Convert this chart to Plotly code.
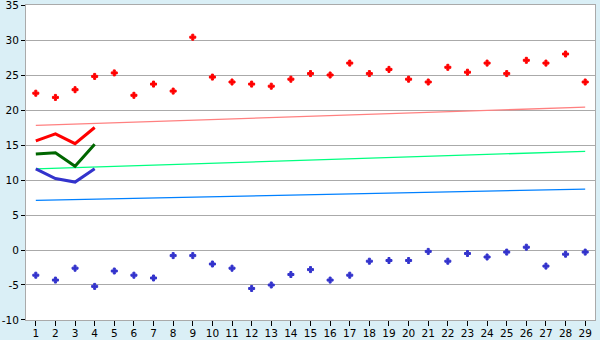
import plotly.graph_objects as go

days = list(range(1, 30))
high_pts = [22.4, 21.8, 22.9, 24.8, 25.3, 22.1, 23.7, 22.7, 30.4, 24.7,
            24.0, 23.7, 23.4, 24.4, 25.2, 25.0, 26.7, 25.2, 25.8, 24.4,
            24.0, 26.1, 25.4, 26.7, 25.2, 27.1, 26.7, 28.0, 24.0]
low_pts = [-3.6, -4.3, -2.6, -5.2, -3.0, -3.6, -4.0, -0.8, -0.8, -2.0,
           -2.6, -5.5, -5.0, -3.5, -2.8, -4.3, -3.6, -1.6, -1.5, -1.5,
           -0.2, -1.6, -0.5, -1.0, -0.3, 0.4, -2.3, -0.6, -0.3]

trend_x = [1, 29]
trend_high = [17.8, 20.4]
trend_mean = [11.6, 14.1]
trend_low = [7.1, 8.7]

cur_days = [1, 2, 3, 4]
cur_high = [15.6, 16.6, 15.2, 17.5]
cur_mean = [13.7, 13.9, 11.95, 15.1]
cur_low = [11.6, 10.2, 9.7, 11.6]

y_ticks = [-10, -5, 0, 5, 10, 15, 20, 25, 30, 35]
y_tick_text = ["-10", "-5", "0", "5", "10", "15", "20", "25", "30", "35"]

fig = go.Figure()
fig.add_trace(go.Scatter(x=trend_x, y=trend_high, mode="lines",
                         line=dict(color="#ff8080", width=1.3)))
fig.add_trace(go.Scatter(x=trend_x, y=trend_mean, mode="lines",
                         line=dict(color="#00ff80", width=1.3)))
fig.add_trace(go.Scatter(x=trend_x, y=trend_low, mode="lines",
                         line=dict(color="#0080ff", width=1.3)))
fig.add_trace(go.Scatter(x=cur_days, y=cur_high, mode="lines",
                         line=dict(color="#ff0000", width=3)))
fig.add_trace(go.Scatter(x=cur_days, y=cur_mean, mode="lines",
                         line=dict(color="#006600", width=3)))
fig.add_trace(go.Scatter(x=cur_days, y=cur_low, mode="lines",
                         line=dict(color="#3333cc", width=3)))
fig.add_trace(go.Scatter(x=days, y=high_pts, mode="markers",
                         marker=dict(symbol="cross", size=5, color="#ff0000",
                                     line=dict(width=1, color="#ff0000"))))
fig.add_trace(go.Scatter(x=days, y=low_pts, mode="markers",
                         marker=dict(symbol="cross", size=5, color="#3333cc",
                                     line=dict(width=1, color="#3333cc"))))
# invisible trace to activate the label-only overlay axis
fig.add_trace(go.Scatter(x=[days[0]], y=[y_ticks[0]], xaxis="x2",
                         mode="markers", marker=dict(opacity=0),
                         hoverinfo="skip"))

fig.update_layout(
    width=600, height=340,
    margin=dict(l=26, r=5, t=5, b=20),
    paper_bgcolor="#daeff6",
    plot_bgcolor="#ffffff",
    showlegend=False,
    font=dict(family="DejaVu Sans", size=10.5, color="#000000"),
    xaxis=dict(
        range=[0.5, 29.5], tickmode="array", tickvals=days,
        ticks="outside", ticklen=5, tickwidth=1, tickcolor="#000000",
        showticklabels=False,
        showgrid=False, zeroline=False, automargin=False,
        showline=True, linecolor="#aaaaaa", linewidth=1, mirror=True,
    ),
    xaxis2=dict(
        overlaying="x", side="bottom", anchor="y",
        range=[0.5, 29.5], tickmode="array", tickvals=days,
        ticks="", ticklabelstandoff=5, ticklabeloverflow="allow",
        showticklabels=True, showgrid=False, zeroline=False,
        showline=False, automargin=False,
    ),
    yaxis=dict(
        range=[-10.001, 35.001], tickmode="array", tickvals=y_ticks,
        ticktext=y_tick_text,
        ticks="outside", ticklen=4, tickwidth=1, tickcolor="#000000",
        ticklabeloverflow="allow",
        showgrid=True, gridcolor="#aaaaaa", gridwidth=1, zeroline=False,
        automargin=False,
        showline=True, linecolor="#aaaaaa", linewidth=1, mirror=True,
    ),
)

fig.write_html("out.html")
